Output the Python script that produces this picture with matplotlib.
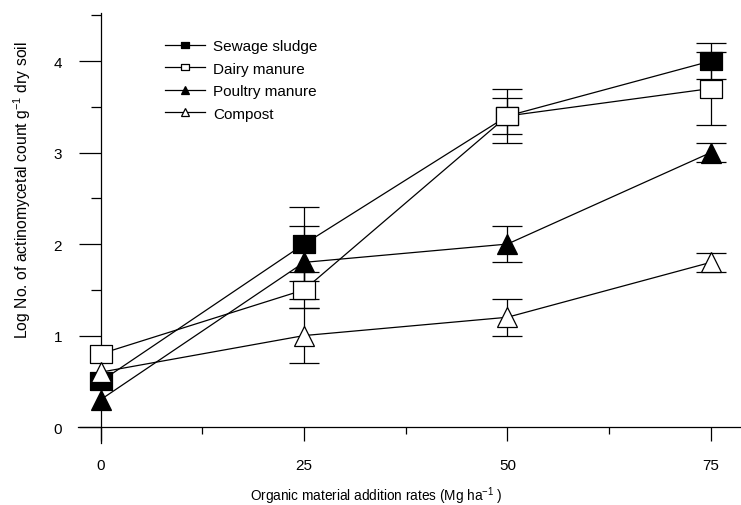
import matplotlib
matplotlib.use('Agg')
import matplotlib.pyplot as plt
from matplotlib.ticker import MultipleLocator

plt.rcParams['font.family'] = ['Liberation Sans', 'DejaVu Sans']
plt.rcParams['mathtext.fontset'] = 'custom'
plt.rcParams['mathtext.rm'] = 'Liberation Sans'
plt.rcParams['mathtext.it'] = 'Liberation Sans'

# Data
rates = [0, 25, 50, 75]
sewage = [0.5, 2.0, 3.4, 4.0]
sewage_err = [0, 0.4, 0.3, 0.2]
dairy = [0.8, 1.5, 3.4, 3.7]
dairy_err = [0, 0.2, 0.2, 0.4]
poultry = [0.3, 1.8, 2.0, 3.0]
poultry_err = [0, 0.4, 0.2, 0.1]
compost = [0.6, 1.0, 1.2, 1.8]
compost_err = [0, 0.3, 0.2, 0.1]

labels = ['Sewage sludge', 'Dairy manure', 'Poultry manure', 'Compost']

# wide rectangle marker like the original
rect = [(-1.3, -1), (1.3, -1), (1.3, 1), (-1.3, 1), (-1.3, -1)]

series = [
    (sewage, sewage_err, rect, 'black', 16),
    (dairy, dairy_err, rect, 'white', 16),
    (poultry, poultry_err, '^', 'black', 15),
    (compost, compost_err, '^', 'white', 15),
]

fig = plt.figure(figsize=(7.41, 5.06), dpi=100)
ax = fig.add_axes([78 / 741, 1 - 443.6 / 506, 662 / 741, 430 / 506])

lw = 0.9
handles = []
for (vals, errs, mk, fc, ms), lab in zip(series, labels):
    ex = [x for x, e in zip(rates, errs) if e > 0]
    ey = [v for v, e in zip(vals, errs) if e > 0]
    ee = [e for e in errs if e > 0]
    ax.errorbar(ex, ey, yerr=ee, fmt='none', ecolor='black', elinewidth=lw,
                capsize=11, capthick=lw, zorder=2)
    ax.plot(rates, vals, color='black', lw=lw, zorder=3)
    ax.plot(rates, vals, linestyle='none', marker=mk, ms=ms, mfc=fc,
            mec='black', mew=lw, zorder=4)
    h, = ax.plot([], [], color='black', lw=lw, marker=mk, ms=6, mfc=fc,
                 mec='black', mew=lw)
    handles.append(h)

ax.set_xlim(-2.8, 78.6)
ax.set_ylim(-0.17, 4.53)

for s in ['top', 'right']:
    ax.spines[s].set_visible(False)
ax.spines['left'].set_position(('data', 0))
ax.spines['bottom'].set_position(('data', 0))
ax.spines['left'].set_linewidth(lw)
ax.spines['bottom'].set_linewidth(lw)

ax.set_xticks(rates)
ax.set_yticks([0, 1, 2, 3, 4])
ax.xaxis.set_minor_locator(MultipleLocator(12.5))
ax.yaxis.set_minor_locator(MultipleLocator(0.5))
ax.tick_params(axis='x', which='major', direction='out', length=10, width=lw,
               pad=12, labelsize=11)
ax.tick_params(axis='x', which='minor', direction='out', length=5, width=lw)
ax.tick_params(axis='y', which='major', direction='out', length=16, width=lw,
               pad=12, labelsize=11)
ax.tick_params(axis='y', which='minor', direction='out', length=7, width=lw)

fig.text(250 / 741, 1 - 496 / 506, r'Organic material addition rates (Mg ha$^{-1}$ )',
         ha='left', va='center', fontsize=9.8)
fig.text(22 / 741, 1 - 190 / 506, r'Log No. of actinomycetal count g$^{-1}$ dry soil',
         ha='center', va='center', rotation=90, fontsize=11.3)

ax.legend(handles, labels, loc='upper left', bbox_to_anchor=(165 / 741, 1 - 40 / 506),
          bbox_transform=fig.transFigure, frameon=False, fontsize=11,
          handlelength=2.6, handletextpad=0.55, labelspacing=0.56, borderpad=0,
          borderaxespad=0)

fig.savefig('out.png', dpi=100)
